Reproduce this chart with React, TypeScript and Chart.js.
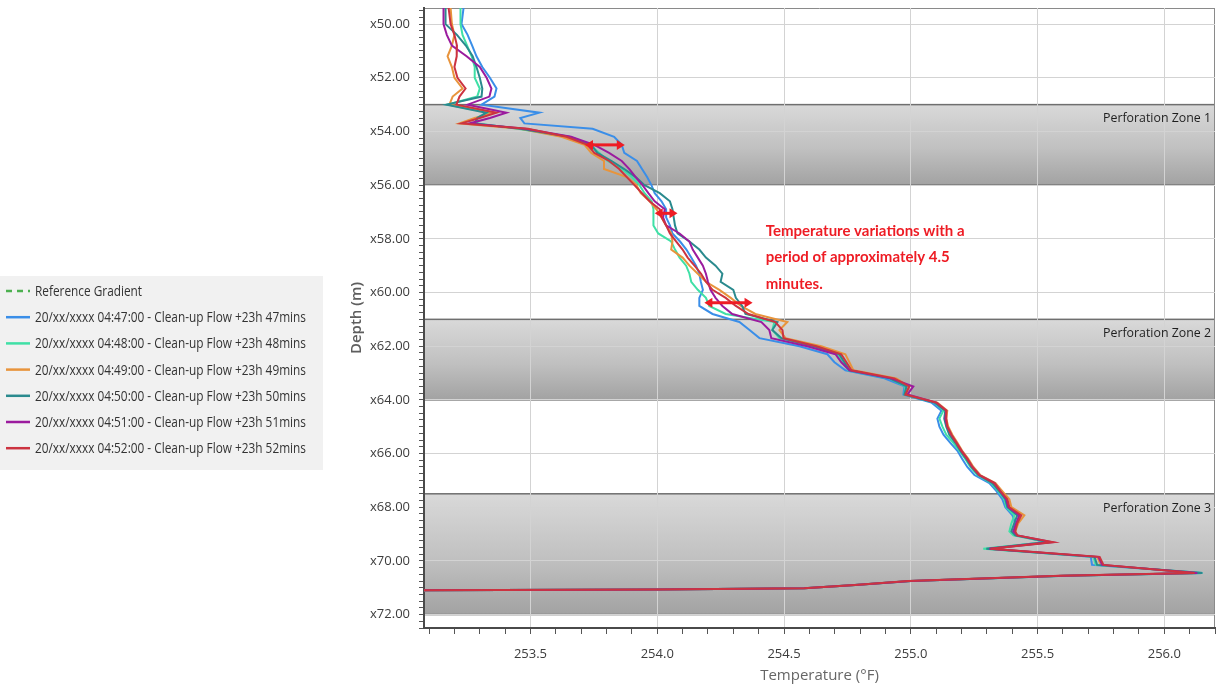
import React, { useEffect, useRef } from "react";
import { Chart, registerables } from "chart.js";

Chart.register(...registerables);

// ---------- data ----------
const depthM = [49.4, 50.0, 50.4, 50.8, 51.2, 51.6, 52.0, 52.4, 52.7, 53.0, 53.3, 53.5, 53.7, 53.9, 54.2, 54.5, 54.8, 55.1, 55.4, 55.7, 56.0, 56.3, 56.6, 56.9, 57.2, 57.5, 57.8, 58.1, 58.4, 58.7, 59.0, 59.3, 59.6, 59.9, 60.2, 60.5, 60.8, 61.1, 61.4, 61.7, 62.0, 62.3, 62.6, 62.9, 63.2, 63.5, 63.8, 64.1, 64.4, 64.7, 65.0, 65.3, 65.6, 65.9, 66.2, 66.5, 66.8, 67.1, 67.4, 67.7, 68.0, 68.3, 68.6, 68.9, 69.05, 69.3, 69.55, 69.85, 70.15, 70.45, 70.55, 70.75, 70.9, 71.02, 71.07, 71.1];

const temp0447 = [253.236, 253.228, 253.252, 253.27, 253.287, 253.31, 253.34, 253.366, 253.358, 253.307, 253.535, 253.46, 253.476, 253.745, 253.83, 253.86, 253.87, 253.92, 253.94, 253.96, 253.977, 253.99, 254.017, 254.035, 254.035, 254.05, 254.06, 254.09, 254.115, 254.134, 254.153, 254.166, 254.172, 254.18, 254.166, 254.166, 254.218, 254.324, 254.364, 254.403, 254.561, 254.671, 254.699, 254.742, 254.896, 254.975, 254.971, 255.081, 255.121, 255.105, 255.113, 255.129, 255.156, 255.184, 255.203, 255.223, 255.251, 255.31, 255.338, 255.361, 255.373, 255.401, 255.412, 255.408, 255.42, 255.531, 255.31, 255.71, 255.715, 256.15, 255.61, 255.0, 254.78, 254.58, 254.0, 253.0];
const temp0448 = [253.224, 253.224, 253.232, 253.25, 253.268, 253.28, 253.28, 253.3, 253.29, 253.173, 253.338, 253.29, 253.29, 253.45, 253.646, 253.733, 253.772, 253.804, 253.86, 253.9, 253.93, 253.95, 253.978, 253.985, 253.985, 253.985, 254.004, 254.055, 254.07, 254.088, 254.114, 254.127, 254.134, 254.16, 254.192, 254.205, 254.27, 254.462, 254.454, 254.482, 254.612, 254.71, 254.73, 254.754, 254.916, 254.979, 254.975, 255.093, 255.129, 255.113, 255.125, 255.14, 255.168, 255.192, 255.215, 255.235, 255.263, 255.318, 255.345, 255.369, 255.377, 255.409, 255.397, 255.389, 255.405, 255.539, 255.286, 255.72, 255.73, 256.15, 255.61, 255.0, 254.78, 254.58, 254.0, 253.0];
const temp0449 = [253.185, 253.19, 253.2, 253.19, 253.173, 253.19, 253.2, 253.232, 253.193, 253.18, 253.358, 253.28, 253.22, 253.46, 253.622, 253.713, 253.74, 253.79, 253.79, 253.88, 253.918, 253.935, 253.97, 253.997, 254.017, 254.035, 254.055, 254.06, 254.055, 254.1, 254.127, 254.16, 254.192, 254.245, 254.29, 254.33, 254.387, 254.513, 254.482, 254.506, 254.647, 254.742, 254.758, 254.774, 254.943, 254.994, 254.979, 255.105, 255.144, 255.14, 255.148, 255.164, 255.184, 255.203, 255.227, 255.247, 255.274, 255.334, 255.361, 255.389, 255.397, 255.448, 255.424, 255.412, 255.42, 255.547, 255.31, 255.735, 255.75, 256.13, 255.6, 255.0, 254.78, 254.58, 254.0, 253.0];
const temp0450 = [253.165, 253.165, 253.21, 253.245, 253.272, 253.287, 253.3, 253.31, 253.307, 253.169, 253.326, 253.29, 253.28, 253.46, 253.654, 253.74, 253.764, 253.82, 253.87, 253.915, 253.95, 254.01, 254.05, 254.06, 254.065, 254.07, 254.08, 254.127, 254.166, 254.192, 254.23, 254.257, 254.25, 254.3, 254.31, 254.335, 254.348, 254.474, 254.454, 254.49, 254.62, 254.718, 254.738, 254.758, 254.916, 254.983, 254.975, 255.093, 255.136, 255.132, 255.14, 255.152, 255.176, 255.196, 255.219, 255.239, 255.267, 255.322, 255.349, 255.373, 255.381, 255.42, 255.408, 255.397, 255.412, 255.543, 255.298, 255.725, 255.735, 256.15, 255.61, 255.0, 254.78, 254.58, 254.0, 253.0];
const temp0451 = [253.157, 253.157, 253.17, 253.19, 253.248, 253.3, 253.327, 253.346, 253.338, 253.252, 253.405, 253.34, 253.26, 253.48, 253.66, 253.752, 253.81, 253.86, 253.89, 253.915, 253.942, 253.965, 253.99, 254.03, 254.023, 254.035, 254.088, 254.127, 254.14, 254.16, 254.18, 254.192, 254.2, 254.21, 254.23, 254.257, 254.296, 254.411, 254.442, 254.45, 254.592, 254.703, 254.726, 254.758, 254.923, 255.01, 254.987, 255.101, 255.14, 255.136, 255.144, 255.16, 255.18, 255.2, 255.223, 255.243, 255.27, 255.33, 255.353, 255.377, 255.385, 255.428, 255.416, 255.405, 255.42, 255.558, 255.31, 255.74, 255.755, 256.13, 255.6, 255.0, 254.78, 254.58, 254.0, 253.0];
const temp0452 = [253.177, 253.185, 253.2, 253.21, 253.209, 253.2, 253.212, 253.244, 253.22, 253.208, 253.366, 253.3, 253.228, 253.49, 253.642, 253.725, 253.752, 253.81, 253.85, 253.88, 253.91, 253.94, 253.97, 254.01, 254.017, 254.035, 254.05, 254.075, 254.1, 254.12, 254.147, 254.173, 254.192, 254.218, 254.27, 254.31, 254.36, 254.466, 254.494, 254.498, 254.628, 254.726, 254.746, 254.766, 254.935, 254.994, 254.979, 255.101, 255.14, 255.14, 255.144, 255.16, 255.18, 255.2, 255.223, 255.243, 255.27, 255.33, 255.353, 255.381, 255.389, 255.436, 255.42, 255.412, 255.42, 255.562, 255.314, 255.745, 255.76, 256.12, 255.59, 254.99, 254.78, 254.58, 254.0, 253.0];

const referenceLabel = "Reference Gradient";
const referenceTemps: number[] = [];
const seriesLabels = [
  "20/xx/xxxx 04:47:00 - Clean-up Flow +23h 47mins",
  "20/xx/xxxx 04:48:00 - Clean-up Flow +23h 48mins",
  "20/xx/xxxx 04:49:00 - Clean-up Flow +23h 49mins",
  "20/xx/xxxx 04:50:00 - Clean-up Flow +23h 50mins",
  "20/xx/xxxx 04:51:00 - Clean-up Flow +23h 51mins",
  "20/xx/xxxx 04:52:00 - Clean-up Flow +23h 52mins",
];
const seriesTemps = [temp0447, temp0448, temp0449, temp0450, temp0451, temp0452];
const seriesColors = ["#3a8ee8", "#3fe0a6", "#e8943c", "#2a8a8e", "#9b1b9e", "#cc3340"];
const referenceColor = "#4cb04f";

const zoneTops = [53.0, 61.0, 67.5];
const zoneBottoms = [56.0, 64.0, 72.0];
const zoneLabels = ["Perforation Zone 1", "Perforation Zone 2", "Perforation Zone 3"];

const arrowDepths = [54.5, 57.05, 60.38];
const arrowFrom = [253.715, 253.99, 254.186];
const arrowTo = [253.872, 254.08, 254.376];

const noteLines = ["Temperature variations with a", "period of approximately 4.5", "minutes."];
const noteTemp = 254.428;
const noteDepth = 57.7;

const xMin = 253.08;
const xMax = 256.2;
const yMin = 49.4;
const yMax = 72.5;

const isMultiple = (v: number, step: number) => Math.abs(v / step - Math.round(v / step)) < 1e-6;

// ---------- plugins ----------
const zonesPlugin = {
  id: "zones",
  beforeDraw(chart: any) {
    const { ctx, chartArea, scales } = chart;
    const ys = scales.y;
    ctx.save();
    ctx.fillStyle = "#ffffff";
    ctx.fillRect(chartArea.left, chartArea.top, chartArea.right - chartArea.left, chartArea.bottom - chartArea.top);
    ctx.beginPath();
    ctx.rect(chartArea.left, chartArea.top, chartArea.right - chartArea.left, chartArea.bottom - chartArea.top);
    ctx.clip();
    for (let i = 0; i < zoneTops.length; i++) {
      const y1 = ys.getPixelForValue(zoneTops[i]);
      const y2 = ys.getPixelForValue(zoneBottoms[i]);
      const g = ctx.createLinearGradient(0, y1, 0, y2);
      g.addColorStop(0, "#d9d9d9");
      g.addColorStop(0.55, "#c0c0c0");
      g.addColorStop(1, "#a2a2a2");
      ctx.fillStyle = g;
      ctx.fillRect(chartArea.left, y1, chartArea.right - chartArea.left, y2 - y1);
      ctx.strokeStyle = "#6f6f6f";
      ctx.lineWidth = 1.5;
      ctx.strokeRect(chartArea.left, y1, chartArea.right - chartArea.left, y2 - y1);
    }
    ctx.restore();
    ctx.save();
    ctx.strokeStyle = "#8a8a8a";
    ctx.lineWidth = 1;
    ctx.beginPath();
    ctx.moveTo(chartArea.left, chartArea.top + 0.5);
    ctx.lineTo(chartArea.right, chartArea.top + 0.5);
    ctx.moveTo(chartArea.right - 0.5, chartArea.top);
    ctx.lineTo(chartArea.right - 0.5, chartArea.bottom);
    ctx.stroke();
    ctx.restore();
  },
  beforeDatasetsDraw(chart: any) {
    const { ctx, chartArea, scales } = chart;
    const ys = scales.y;
    ctx.save();
    ctx.font = '13px "Open Sans", sans-serif';
    ctx.fillStyle = "#1e1e1e";
    ctx.textAlign = "right";
    ctx.textBaseline = "middle";
    for (let i = 0; i < zoneTops.length; i++) {
      const y1 = ys.getPixelForValue(zoneTops[i]);
      ctx.fillText(zoneLabels[i], chartArea.right - 4, y1 + 14, 108);
    }
    ctx.restore();
  },
};

const arrowsPlugin = {
  id: "arrows",
  afterDatasetsDraw(chart: any) {
    const { ctx, scales } = chart;
    const xs = scales.x;
    const ys = scales.y;
    ctx.save();
    ctx.strokeStyle = "#ee1c24";
    ctx.fillStyle = "#ee1c24";
    ctx.lineWidth = 3;
    const head = 8;
    const half = 5;
    for (let i = 0; i < arrowDepths.length; i++) {
      const y = ys.getPixelForValue(arrowDepths[i]);
      const x1 = xs.getPixelForValue(arrowFrom[i]);
      const x2 = xs.getPixelForValue(arrowTo[i]);
      ctx.beginPath();
      ctx.moveTo(x1 + head - 1, y);
      ctx.lineTo(x2 - head + 1, y);
      ctx.stroke();
      ctx.beginPath();
      ctx.moveTo(x1, y);
      ctx.lineTo(x1 + head, y - half);
      ctx.lineTo(x1 + head, y + half);
      ctx.closePath();
      ctx.fill();
      ctx.beginPath();
      ctx.moveTo(x2, y);
      ctx.lineTo(x2 - head, y - half);
      ctx.lineTo(x2 - head, y + half);
      ctx.closePath();
      ctx.fill();
    }
    ctx.restore();
  },
  afterDraw(chart: any) {
    const { ctx, scales } = chart;
    const x = scales.x.getPixelForValue(noteTemp);
    const y = scales.y.getPixelForValue(noteDepth);
    ctx.save();
    ctx.font = 'bold 15px Lato, "Open Sans", sans-serif';
    ctx.fillStyle = "#ee1c24";
    ctx.textAlign = "left";
    ctx.textBaseline = "middle";
    noteLines.forEach((t, i) => ctx.fillText(t, x, y + i * 26.5, i === 0 ? 216 : 200));
    ctx.restore();
  },
};

const sideLegendPlugin = {
  id: "sideLegend",
  afterDraw(chart: any) {
    const { ctx } = chart;
    const ds = chart.data.datasets;
    ctx.save();
    ctx.fillStyle = "#f1f1f1";
    ctx.fillRect(0, 276, 323, 194);
    ctx.font = '14px "Open Sans", sans-serif';
    let widest = 0;
    ds.forEach((d: any) => (widest = Math.max(widest, ctx.measureText(d.label).width)));
    const sx = 271 / widest;
    ds.forEach((d: any, i: number) => {
      const y = 291 + i * 26.2;
      ctx.strokeStyle = d.borderColor;
      ctx.lineWidth = 2.5;
      ctx.setLineDash(d.borderDash || []);
      ctx.beginPath();
      ctx.moveTo(6, y);
      ctx.lineTo(30, y);
      ctx.stroke();
      ctx.setLineDash([]);
      ctx.save();
      ctx.translate(35, y);
      ctx.scale(sx, 1);
      ctx.fillStyle = "#333333";
      ctx.textBaseline = "middle";
      ctx.textAlign = "left";
      ctx.fillText(d.label, 0, 1);
      ctx.restore();
    });
    ctx.restore();
  },
};

export default function App() {
  const ref = useRef<HTMLCanvasElement | null>(null);

  useEffect(() => {
    document.body.style.margin = "0";
    const canvas = ref.current;
    if (!canvas) return;
    Chart.defaults.font.family = '"Open Sans", sans-serif';

    const datasets: any[] = [
      {
        label: referenceLabel,
        data: referenceTemps.map((t, i) => ({ x: t, y: depthM[i] })),
        borderColor: referenceColor,
        borderDash: [6, 5],
        borderWidth: 2,
        showLine: true,
        pointRadius: 0,
        order: 10,
      },
      ...seriesLabels.map((label, s) => ({
        label,
        data: depthM.map((d, i) => ({ x: seriesTemps[s][i], y: d })),
        borderColor: seriesColors[s],
        backgroundColor: seriesColors[s],
        borderWidth: 2,
        showLine: true,
        pointRadius: 0,
        tension: 0,
        order: 6 - s,
      })),
    ];

    const chart = new Chart(canvas, {
      type: "scatter",
      data: { datasets },
      options: {
        animation: false,
        responsive: false,
        maintainAspectRatio: false,
        devicePixelRatio: 1,
        layout: { padding: { left: 340, top: 8, right: 10, bottom: 0 } },
        plugins: {
          legend: { display: false },
          tooltip: { enabled: false },
        },
        scales: {
          x: {
            type: "linear",
            min: xMin,
            max: xMax,
            afterFit: (scale: any) => {
              scale.height = 60;
              scale.paddingLeft = 0;
              scale.paddingRight = 0;
            },
            ticks: {
              stepSize: 0.1,
              autoSkip: false,
              maxRotation: 0,
              includeBounds: false,
              padding: 12,
              color: "#3c3c3c",
              font: { size: 13 },
              callback: (v: any) => (isMultiple(Number(v), 0.5) ? Number(v).toFixed(1) : ""),
            },
            grid: {
              color: (c: any) => (c.tick && isMultiple(c.tick.value, 0.5) ? "#d3d3d3" : "rgba(0,0,0,0)"),
              tickColor: "#555555",
              tickLength: 6,
              lineWidth: 1,
            },
            border: { display: true, color: "#4a4a4a", width: 2 },
            title: {
              display: true,
              text: "Temperature (°F)",
              color: "#666666",
              font: { size: 15 },
              padding: { top: 0, bottom: 3 },
            },
          },
          y: {
            type: "linear",
            reverse: true,
            min: yMin,
            max: yMax,
            afterFit: (scale: any) => {
              scale.width = 84;
              scale.paddingTop = 0;
              scale.paddingBottom = 0;
            },
            ticks: {
              stepSize: 0.25,
              autoSkip: false,
              includeBounds: false,
              padding: 9,
              color: "#3c3c3c",
              font: { size: 13 },
              callback: (v: any) => (isMultiple(Number(v), 2) ? "x" + Number(v).toFixed(2) : ""),
            },
            grid: {
              color: (c: any) => (c.tick && isMultiple(c.tick.value, 2) ? "#d3d3d3" : "rgba(0,0,0,0)"),
              tickColor: "#555555",
              tickLength: 5,
              lineWidth: 1,
            },
            border: { display: true, color: "#4a4a4a", width: 2 },
            title: {
              display: true,
              text: "Depth (m)",
              color: "#5e5e5e",
              font: { size: 15, weight: "600" },
              padding: { top: 8, bottom: 0 },
            },
          },
        },
      } as any,
      plugins: [zonesPlugin, arrowsPlugin, sideLegendPlugin],
    });

    return () => chart.destroy();
  }, []);

  return (
    <div style={{ width: 1225, height: 688, position: "relative" }}>
      <canvas ref={ref} width={1225} height={688} style={{ display: "block" }} />
    </div>
  );
}
